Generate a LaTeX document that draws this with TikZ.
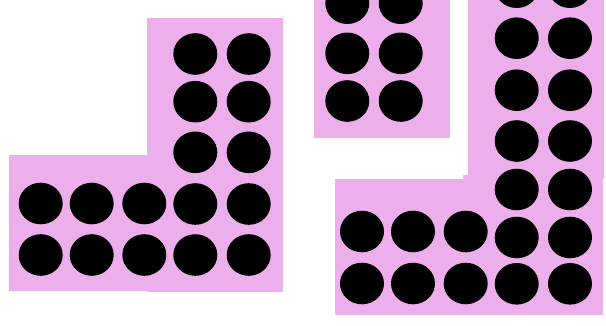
\documentclass[tikz,border=0pt]{standalone}
\usepackage{xcolor}
\usepackage{tikz}
\definecolor{TilePink}{RGB}{237,175,235}

\begin{document}
\begin{tikzpicture}[x=1pt, y=-1pt, tile/.style={fill=TilePink}, dot/.style={fill=black}]
    \clip (0,0) rectangle (606,325);
    % left L-shape
    \fill [tile] (147,18) rectangle (283,291.5);
    \fill [tile] (9,155) rectangle (147,290.5);
    \foreach \x in {195.3,248.7}
        \foreach \y in {54,101.7,152.3,204,255}
            \fill [dot] (\x,\y) ellipse [x radius=22, y radius=20.8];
    \foreach \x in {40.7,91.7,144.3}
        \foreach \y in {203.5,255}
            \fill [dot] (\x,\y) ellipse [x radius=22, y radius=20.8];
    % right: small block
    \fill [tile] (314,-1) rectangle (450,137.7);
    \foreach \x in {347.3,400.7}
        \foreach \y in {3.2,53.3,101}
            \fill [dot] (\x,\y) ellipse [x radius=22, y radius=20.8];
    % right L-shape
    \fill [tile] (467.7,-1) rectangle (604,176.7);
    \fill [tile] (463,175) rectangle (604,179);
    \fill [tile] (335,179) rectangle (602.7,314.7);
    \foreach \x in {516.7,570}
        \foreach \y in {-12.8,38.2,90.2,141,189.5,237.5,283.8}
            \fill [dot] (\x,\y) ellipse [x radius=22, y radius=20.8];
    \foreach \x in {362,413,465.7}
        \foreach \y in {231.5,283.5}
            \fill [dot] (\x,\y) ellipse [x radius=22, y radius=20.8];
\end{tikzpicture}
\end{document}
